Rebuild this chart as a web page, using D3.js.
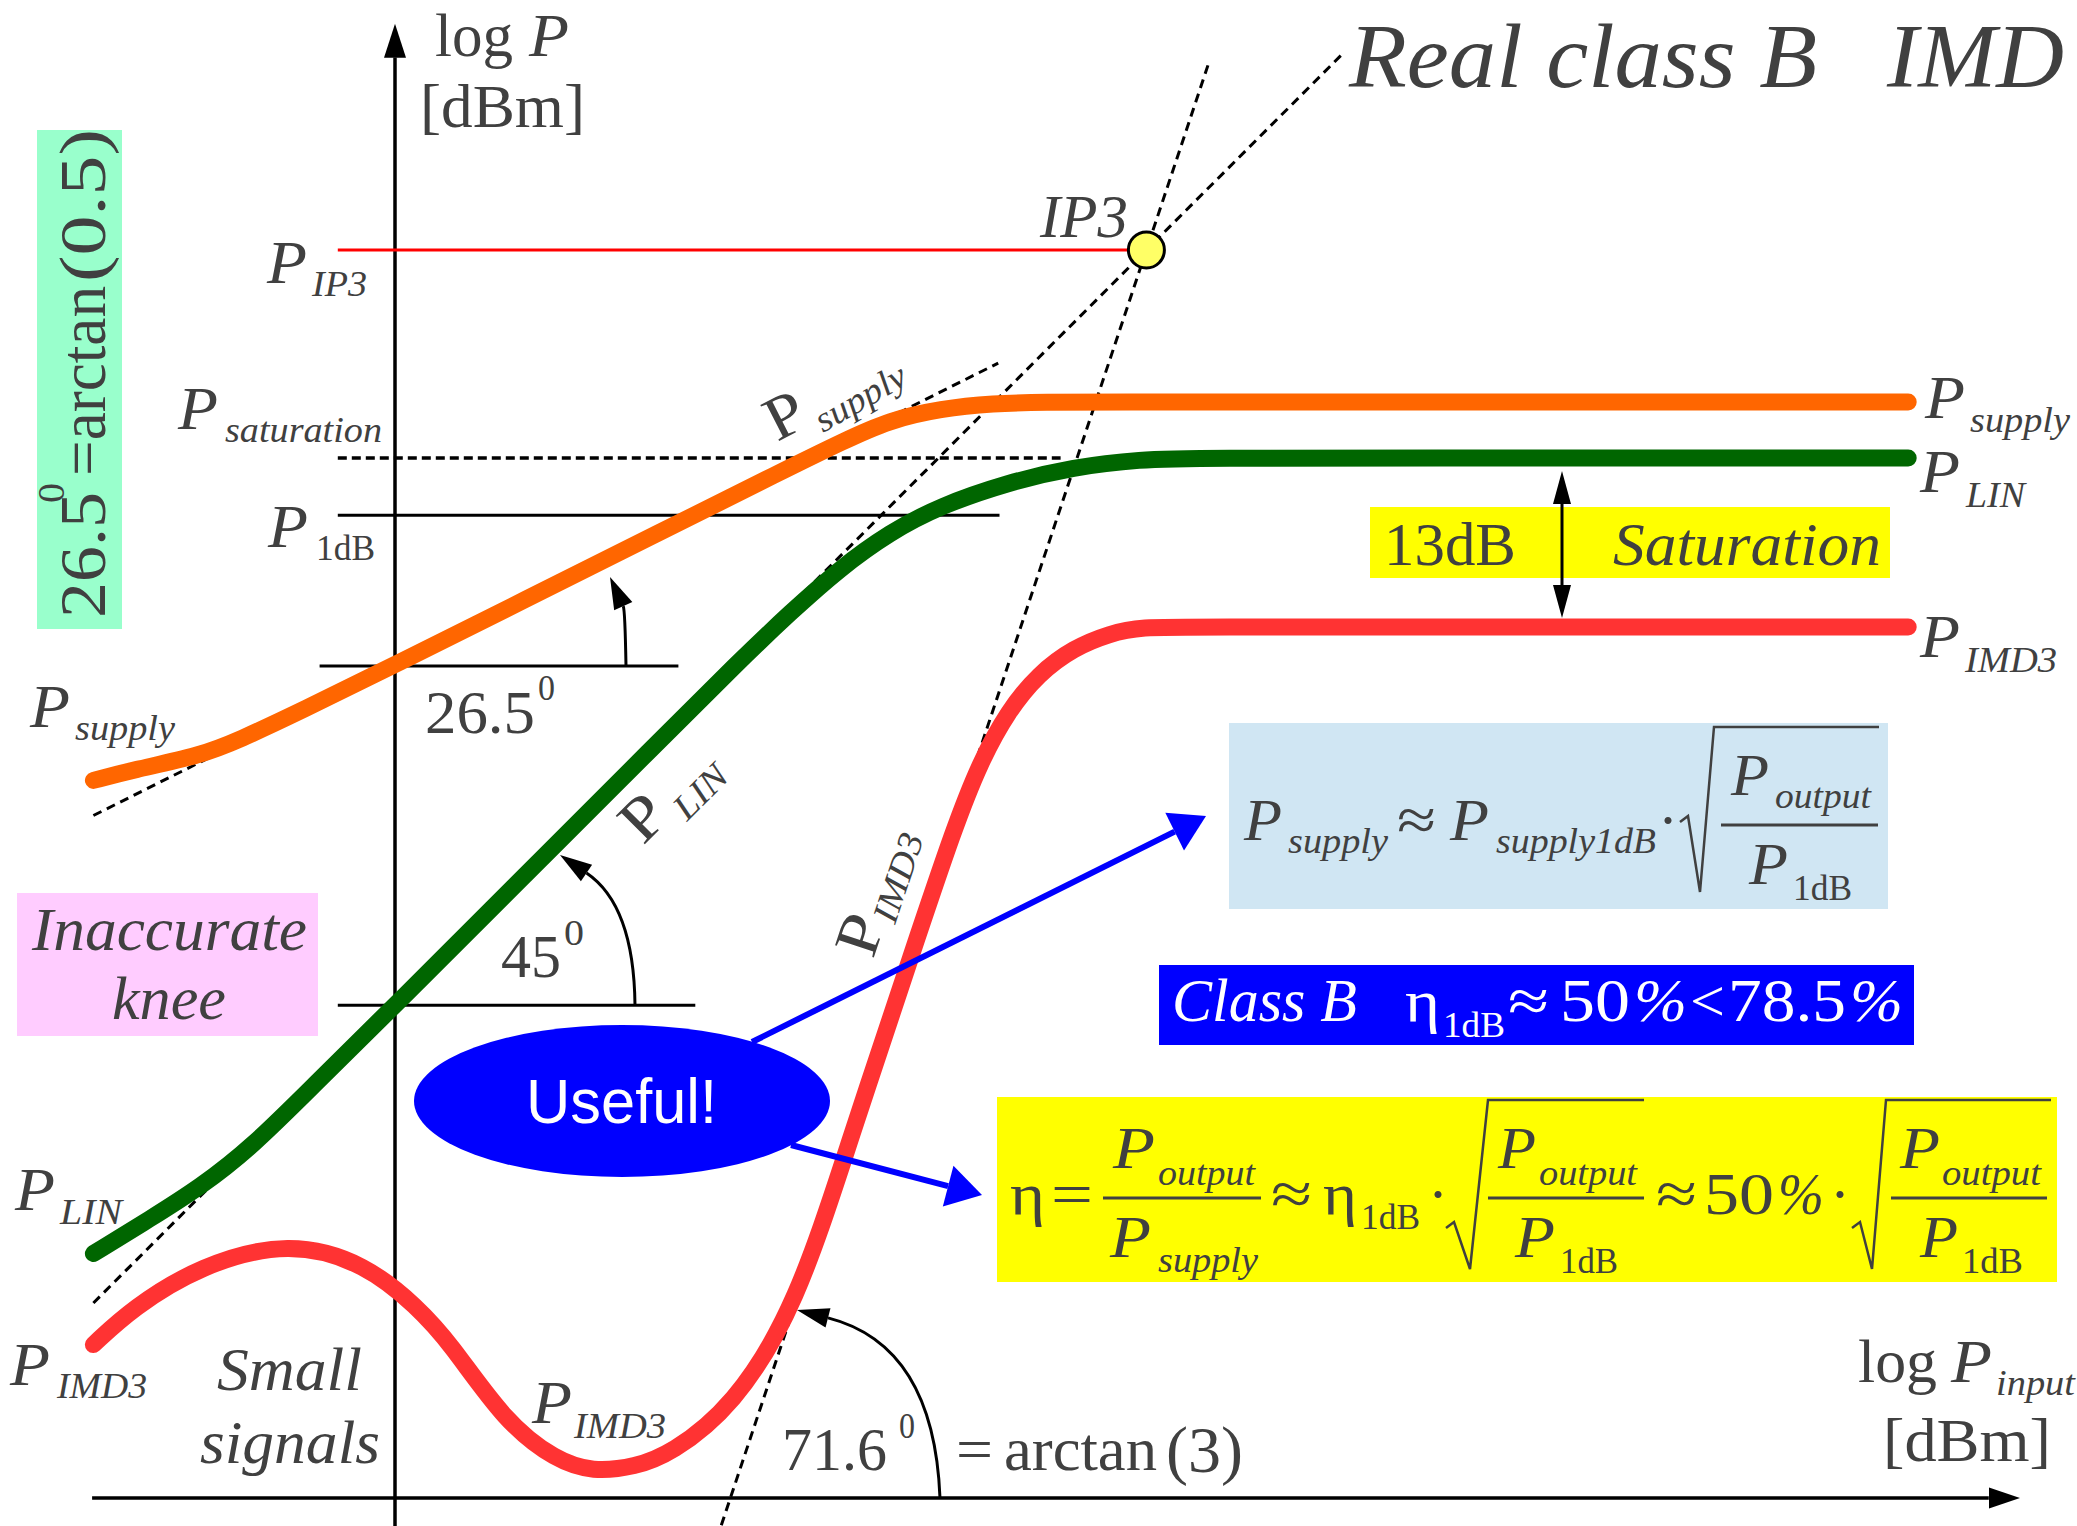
<!DOCTYPE html>
<html><head><meta charset="utf-8">
<script src="https://cdn.jsdelivr.net/npm/d3@7"></script>
<style>html,body{margin:0;padding:0;background:#fff}svg{display:block}</style>
</head><body>
<script>
const W = 2077, H = 1526;

// ---- power levels (dB, output vs input) ----
const IP3 = [57.8, 96];              // third-order intercept point [Pin, Pout]
const P_IP3 = 96;
const P_SAT = 80;                    // P_LIN saturation level
const P_1DB = 75.6;
const P_SUPPLY_SAT = 84.3;
const P_IMD3_SAT = 67;               // 13 dB below P_SAT
const REF_SUPPLY = 64.0;             // horizontal reference of the 26.5° angle
const REF_LIN = 37.9;                // horizontal reference of the 45° angle
const SUPPLY_ASYM = {slope: 0.5, at0: 64.1, x: [-23.2, 46.4]};
const LIN_ASYM_X = [-23.2, 73.0];    // slope 1 through IP3
const IMD3_ASYM_Y = [-2.1, 110.2];   // slope 3 through IP3

// curves: [Pin, Pout]
const pSupply = [[-23.2,55.2],[-20.2,56.0],[-15,57.1],[-12,58.3],[-7.3,60.5],[0,64.1],[10,69.1],[20,74.1],
  [30,79.1],[34.5,81.3],[38,82.9],[42,83.8],[46,84.2],[50,84.3],[55,84.3],[70,84.3],[90,84.3],[116.4,84.3]];
const pLin = [[-23.2,18.8],[-18.8,21.5],[-15,23.9],[-11,27.0],[-6,32.0],[0,37.9],[10,47.9],[20,57.9],
  [26.5,64.4],[30.4,68.1],[34.2,71.5],[38.1,74.3],[41.9,76.3],[47.1,78.1],[52.2,79.3],[57.3,79.9],[62,80],
  [80,80],[100,80],[116.4,80]];
const pImd3 = [[-23.2,11.8],[-20.2,14.6],[-15,17.9],[-8.1,19.8],[-2.2,18.0],[1.7,14.7],[4.2,12.0],[8.5,5.8],
  [12.4,2.9],[15.2,2.0],[18.5,2.4],[21.2,3.4],[26,7.0],[30.9,14.8],[35,27.6],[40,42.6],[43,51.5],[45,56.6],
  [47.2,60.6],[49.5,63.4],[52.2,65.4],[55,66.5],[57.3,67],[62,67],[80,67],[100,67],[116.4,67]];

// ---- scales: equal dB per pixel on both axes so slopes read as true angles ----
const K = 13;
const x = d3.scaleLinear().domain([0, 100]).range([395, 395 + 100 * K]);
const y = d3.scaleLinear().domain([0, 100]).range([1498, 1498 - 100 * K]);

const svg = d3.select('body').append('svg').attr('width', W).attr('height', H);
svg.append('rect').attr('width', W).attr('height', H).attr('fill', '#fff');

const INK = '#404040';
const SERIF = "'Liberation Serif','Times New Roman',serif";
const SANS = "'Liberation Sans',Arial,sans-serif";

function T(px, py, s, o = {}) {
  const t = svg.append('text').text(s)
    .attr('font-family', o.sans ? SANS : SERIF)
    .attr('font-size', o.size || 62)
    .attr('fill', o.fill || INK);
  if (o.it) t.attr('font-style', 'italic');
  if (o.rot != null) t.attr('transform', `translate(${px},${py}) rotate(${o.rot})`).attr('x', 0).attr('y', 0);
  else t.attr('x', px).attr('y', py);
  if (o.w) t.attr('textLength', o.w).attr('lengthAdjust', 'spacingAndGlyphs');
  return t;
}
function seg(x1, y1, x2, y2, st = {}) {
  return svg.append('line').attr('x1', x1).attr('y1', y1).attr('x2', x2).attr('y2', y2)
    .attr('stroke', st.c || '#000').attr('stroke-width', st.w || 3)
    .attr('stroke-dasharray', st.dash || null);
}
// arrow head with tip at (tx,ty), pointing away from (fx,fy); returns base centre
function head(tx, ty, fx, fy, len, wid, col) {
  const dx = tx - fx, dy = ty - fy, d = Math.hypot(dx, dy), ux = dx / d, uy = dy / d;
  const bx = tx - ux * len, by = ty - uy * len;
  svg.append('polygon').attr('fill', col || '#000')
    .attr('points', `${tx},${ty} ${bx - uy * wid / 2},${by + ux * wid / 2} ${bx + uy * wid / 2},${by - ux * wid / 2}`);
  return [bx, by];
}

// ---- background boxes ----
svg.append('rect').attr('x', 37).attr('y', 130).attr('width', 85).attr('height', 499).attr('fill', '#99ffcc');
svg.append('rect').attr('x', 17).attr('y', 893).attr('width', 301).attr('height', 143).attr('fill', '#ffccff');
svg.append('rect').attr('x', 1370).attr('y', 507).attr('width', 520).attr('height', 71).attr('fill', '#ffff00');
svg.append('rect').attr('x', 1229).attr('y', 723).attr('width', 659).attr('height', 186).attr('fill', '#d0e6f3');
svg.append('rect').attr('x', 1159).attr('y', 965).attr('width', 755).attr('height', 80).attr('fill', '#0000ff');
svg.append('rect').attr('x', 997).attr('y', 1097).attr('width', 1060).attr('height', 185).attr('fill', '#ffff00');

// ---- axes ----
seg(x(0), y(-2.2), x(0), y(110.8), {w: 3.5});
head(x(0), y(113.4), x(0), y(0), 34, 22);
seg(x(-23.3), y(0), x(122.6), y(0), {w: 3.5});
head(x(125), y(0), x(0), y(0), 31, 21);

// ---- reference levels ----
seg(x(-4.4), y(P_IP3), x(IP3[0]), y(P_IP3), {c: '#ff0000', w: 3});
seg(x(-4.4), y(P_SAT), x(51.2), y(P_SAT), {w: 3.5, dash: '9,5'});
seg(x(-4.4), y(P_1DB), x(46.5), y(P_1DB), {w: 3});
seg(x(-5.8), y(REF_SUPPLY), x(21.8), y(REF_SUPPLY), {w: 3});
seg(x(-4.4), y(REF_LIN), x(23.1), y(REF_LIN), {w: 3});

// ---- asymptotes (dotted) ----
const dash = {w: 3, dash: '9,6'};
const sA = SUPPLY_ASYM;
seg(x(sA.x[0]), y(sA.at0 + sA.slope * sA.x[0]), x(sA.x[1]), y(sA.at0 + sA.slope * sA.x[1]), dash);
const linY = v => IP3[1] + (v - IP3[0]);
seg(x(LIN_ASYM_X[0]), y(linY(LIN_ASYM_X[0])), x(LIN_ASYM_X[1]), y(linY(LIN_ASYM_X[1])), dash);
const imdX = v => IP3[0] + (v - IP3[1]) / 3;
seg(x(imdX(IMD3_ASYM_Y[0])), y(IMD3_ASYM_Y[0]), x(imdX(IMD3_ASYM_Y[1])), y(IMD3_ASYM_Y[1]), dash);

// ---- curves ----
const line = d3.line().x(d => x(d[0])).y(d => y(d[1])).curve(d3.curveBasis);
[[pSupply, '#ff6600'], [pLin, '#006600'], [pImd3, '#ff3333']].forEach(([data, col]) => {
  svg.append('path').attr('d', line(data)).attr('fill', 'none').attr('stroke', col)
    .attr('stroke-width', 17).attr('stroke-linecap', 'round').attr('stroke-linejoin', 'round');
});

// ---- IP3 point ----
svg.append('circle').attr('cx', x(IP3[0])).attr('cy', y(IP3[1])).attr('r', 18)
  .attr('fill', '#ffff66').attr('stroke', '#000').attr('stroke-width', 3);

// ---- angle arcs ----
function arc(p0, c, tip) {
  const b = head(tip[0], tip[1], c[0], c[1], 32, 20);
  svg.append('path').attr('d', `M${p0[0]},${p0[1]} Q${c[0]},${c[1]} ${b[0]},${b[1]}`)
    .attr('fill', 'none').attr('stroke', '#000').attr('stroke-width', 3);
}
arc([626, y(REF_SUPPLY)], [625, 610], [610, 577]);
arc([635, y(REF_LIN)], [634, 905], [560, 855]);
arc([940, y(0)], [934, 1345], [797, 1310]);

// 13 dB double arrow between saturated P_LIN and P_IMD3
{
  const xa = 1562, t = y(P_SAT) + 13, b = y(P_IMD3_SAT) - 9;
  const b1 = head(xa, t, xa, b, 33, 18);
  const b2 = head(xa, b, xa, t, 33, 18);
  seg(xa, b1[1], xa, b2[1], {w: 3});
}

// ---- "Useful!" callout ----
{
  const b1 = head(1206, 816, 752, 1042, 35, 42, '#0000ff');
  seg(752, 1042, b1[0], b1[1], {c: '#0000ff', w: 6});
  const b2 = head(982, 1195, 791, 1145, 35, 42, '#0000ff');
  seg(791, 1145, b2[0], b2[1], {c: '#0000ff', w: 6});
  svg.append('ellipse').attr('cx', 622).attr('cy', 1101).attr('rx', 208).attr('ry', 76).attr('fill', '#0000ff');
  T(526, 1123, 'Useful!', {sans: true, size: 63, fill: '#fff', w: 191});
}

// ---- axis titles ----
T(435, 56, 'log', {w: 78});
T(529, 56, 'P', {it: true, w: 40});
T(420, 127, '[dBm]', {w: 165});
T(1858, 1382, 'log', {w: 79});
T(1951, 1382, 'P', {it: true, w: 41});
T(1996, 1395, 'input', {it: true, size: 36, w: 79});
T(1883, 1461, '[dBm]', {w: 168});

// ---- level labels: P with subscript ----
function PS(px, py, sub, sx, sy, sw, o = {}) {
  T(px, py, 'P', {it: true, w: o.pw || 40, size: o.size || 62, fill: o.fill});
  T(sx, sy, sub, {it: o.upright ? false : true, size: o.ssize || 36, w: sw, fill: o.fill});
}
PS(267, 283, 'IP3', 312, 296, 55);
PS(178, 429, 'saturation', 225, 442, 157);
PS(268, 547, '1dB', 316, 560, 59, {upright: true});
PS(30, 727, 'supply', 75, 740, 100);
PS(15, 1210, 'LIN', 60, 1224, 62);
PS(10, 1385, 'IMD3', 57, 1398, 90);
PS(532, 1423, 'IMD3', 574, 1438, 92);
PS(1925, 418, 'supply', 1970, 432, 100);
PS(1920, 492, 'LIN', 1966, 507, 59);
PS(1920, 657, 'IMD3', 1965, 672, 92);

// labels set along the curves
T(777, 442, 'P', {it: false, rot: -27, w: 38});
T(823, 433, 'supply', {it: true, size: 36, rot: -30, w: 100});
T(643, 846, 'P', {rot: -45, w: 40});
T(687, 822, 'LIN', {it: true, size: 36, rot: -45, w: 62});
T(873, 960, 'P', {rot: -71.6, w: 40});
T(895, 925, 'IMD3', {it: true, size: 36, rot: -71.6, w: 92});

T(1040, 237, 'IP3', {it: true, w: 88});
T(1349, 87, 'Real class B', {it: true, size: 90, w: 468});
T(1887, 87, 'IMD', {it: true, size: 90, w: 177});

// ---- angle labels ----
T(425, 733, '26.5', {w: 110});
T(538, 700, '0', {size: 36, w: 17});
T(501, 977, '45', {w: 60});
T(564, 945, '0', {size: 36, w: 20});
T(782, 1470, '71.6', {w: 105});
T(899, 1438, '0', {size: 36, w: 16});
T(956, 1470, '=', {w: 37});
T(1004, 1470, 'arctan', {w: 153});
T(1166, 1472, '(3)', {size: 66, w: 77});

// vertical note
T(105, 618, '26.5', {rot: -90, size: 66, w: 126});
T(64, 503, '0', {rot: -90, size: 38, w: 20});
T(105, 476, '=arctan', {rot: -90, size: 66, w: 190});
T(105, 282, '(0.5)', {rot: -90, size: 66, w: 153});

T(32, 950, 'Inaccurate', {it: true, w: 275});
T(112, 1019, 'knee', {it: true, w: 114});
T(217, 1390, 'Small', {it: true, w: 145});
T(200, 1463, 'signals', {it: true, w: 180});

T(1384, 565, '13dB', {w: 132});
T(1613, 565, 'Saturation', {it: true, w: 268});

// ---- formula: P_supply ≈ P_supply1dB · sqrt(P_output / P_1dB) ----
function radical(x0, yMid, xv, yb, xt, yt, xe) {
  svg.append('path').attr('d', `M${x0},${yMid + 6} L${x0 + 8},${yMid} L${xv},${yb} L${xt},${yt} L${xe},${yt}`)
    .attr('fill', 'none').attr('stroke', INK).attr('stroke-width', 2.5).attr('stroke-linejoin', 'miter');
}
function bar(x1, x2, yy) { seg(x1, yy, x2, yy, {c: INK, w: 3}); }

PS(1244, 840, 'supply', 1288, 853, 100, {pw: 38, size: 60});
T(1397, 840, '≈', {size: 60, w: 39});
PS(1450, 840, 'supply1dB', 1496, 853, 160, {pw: 39, size: 60});
T(1658, 840, '·', {size: 60});
radical(1680, 816, 1700, 892, 1714, 727, 1879);
bar(1721, 1878, 825);
PS(1731, 795, 'output', 1775, 808, 96, {pw: 38, size: 60});
PS(1749, 884, '1dB', 1793, 900, 59, {pw: 39, size: 60, upright: true});

// ---- Class B efficiency ----
const WH = '#fff';
T(1172, 1021, 'Class B', {it: true, size: 62, w: 185, fill: WH});
T(1405, 1021, 'η', {size: 60, w: 35, fill: WH});
T(1443, 1037, '1dB', {size: 36, w: 62, fill: WH});
T(1508, 1021, '≈', {size: 60, w: 41, fill: WH});
T(1560, 1021, '50', {size: 62, w: 70, fill: WH});
T(1634, 1021, '%', {it: true, size: 62, w: 53, fill: WH});
T(1690, 1021, '<', {size: 60, w: 35, fill: WH});
T(1728, 1021, '78.5', {size: 62, w: 118, fill: WH});
T(1850, 1021, '%', {it: true, size: 62, w: 53, fill: WH});

// ---- efficiency formula ----
T(1010, 1214, 'η', {size: 60, w: 35});
T(1051, 1214, '=', {size: 60, w: 42});
bar(1103, 1261, 1198);
PS(1113, 1168, 'output', 1158, 1185, 97, {pw: 42, size: 60});
PS(1110, 1257, 'supply', 1158, 1272, 100, {pw: 41, size: 60});
T(1271, 1214, '≈', {size: 60, w: 41});
T(1323, 1214, 'η', {size: 60, w: 34});
T(1361, 1229, '1dB', {size: 36, w: 59});
T(1428, 1214, '·', {size: 60});
radical(1446, 1222, 1470, 1269, 1488, 1100, 1644);
bar(1488, 1644, 1198);
PS(1498, 1168, 'output', 1539, 1185, 98, {pw: 38, size: 60});
PS(1515, 1257, '1dB', 1560, 1273, 58, {pw: 40, size: 60, upright: true});
T(1656, 1214, '≈', {size: 60, w: 41});
T(1704, 1214, '50', {size: 60, w: 70});
T(1778, 1214, '%', {it: true, size: 60, w: 46});
T(1830, 1214, '·', {size: 60});
radical(1852, 1222, 1872, 1269, 1886, 1100, 2051);
bar(1891, 2047, 1198);
PS(1900, 1168, 'output', 1942, 1185, 99, {pw: 40, size: 60});
PS(1920, 1257, '1dB', 1962, 1273, 61, {pw: 38, size: 60, upright: true});
</script>
</body></html>
